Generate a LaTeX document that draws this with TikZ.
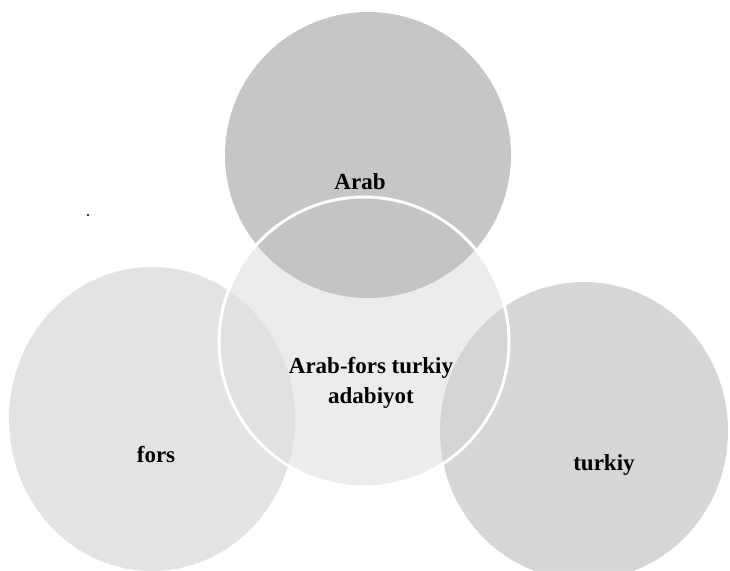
\documentclass[tikz,border=0pt]{standalone}
\usepackage{fontspec}
\setmainfont{Liberation Serif}
\begin{document}
\begin{tikzpicture}[x=1pt,y=-1pt,
  lbl/.style={font=\bfseries\fontsize{23}{30}\selectfont, text=black, align=center, inner sep=1pt},
  outer/.style={fill opacity=0.88, draw=none}]
\useasboundingbox (0,0) rectangle (730,570);
\fill[white] (0,0) rectangle (730,570);
\begin{scope}
\clip (0,0) rectangle (730,570);
% central circle (base fill)
\fill[gray!15] (364,342) circle[radius=145];
% outer circles
\fill[outer, fill=gray!24] (152,419) ellipse[x radius=143, y radius=152];
\fill[outer, fill=gray!36] (584,431) ellipse[x radius=144, y radius=149];
\fill[outer, fill=gray!50] (368,155) circle[radius=143];
% central circle outline
\draw[white, line width=3pt] (364,342) circle[radius=145];
\end{scope}
\fill[black] (88,215) circle[radius=1.2];
\node[lbl] (arab) at (360,182) {Arab};
\node[lbl] (mid) at (371,383) {Arab-fors turkiy\\adabiyot};
\node[lbl] (fors) at (156,455) {fors};
\node[lbl] (turk) at (604,465) {turkiy};
\end{tikzpicture}
\end{document}
